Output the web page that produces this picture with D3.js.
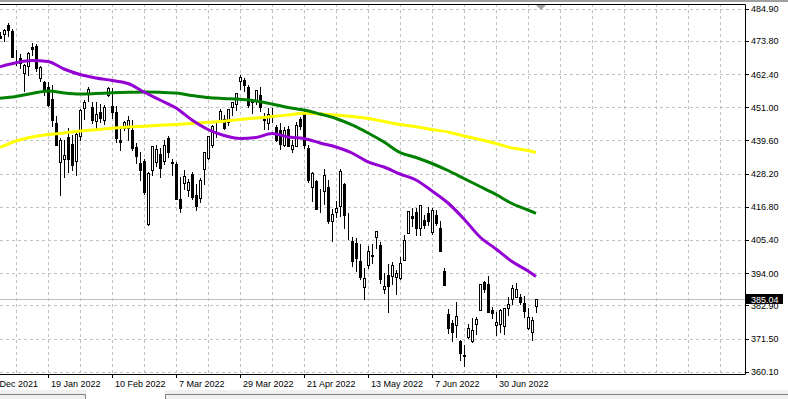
<!DOCTYPE html>
<html>
<head>
<meta charset="utf-8">
<script src="https://cdn.jsdelivr.net/npm/d3@7"></script>
<style>
  body { margin: 0; background: #fff; }
  svg { display: block; font-family: "Liberation Sans", Arial, sans-serif; font-size: 9px; }
</style>
</head>
<body>
<div id="chart"></div>
<script>
// daily bars, 27 Dec 2021 .. 15 Jul 2022
var dates = ["2021-12-27","2021-12-28","2021-12-29","2021-12-30","2021-12-31",
  "2022-01-03","2022-01-04","2022-01-05","2022-01-06","2022-01-07","2022-01-10","2022-01-11","2022-01-12","2022-01-13","2022-01-14",
  "2022-01-18","2022-01-19","2022-01-20","2022-01-21","2022-01-24","2022-01-25","2022-01-26","2022-01-27","2022-01-28","2022-01-31",
  "2022-02-01","2022-02-02","2022-02-03","2022-02-04","2022-02-07","2022-02-08","2022-02-09","2022-02-10","2022-02-11","2022-02-14",
  "2022-02-15","2022-02-16","2022-02-17","2022-02-18","2022-02-22","2022-02-23","2022-02-24","2022-02-25","2022-02-28",
  "2022-03-01","2022-03-02","2022-03-03","2022-03-04","2022-03-07","2022-03-08","2022-03-09","2022-03-10","2022-03-11","2022-03-14",
  "2022-03-15","2022-03-16","2022-03-17","2022-03-18","2022-03-21","2022-03-22","2022-03-23","2022-03-24","2022-03-25","2022-03-28",
  "2022-03-29","2022-03-30","2022-03-31","2022-04-01","2022-04-04","2022-04-05","2022-04-06","2022-04-07","2022-04-08","2022-04-11",
  "2022-04-12","2022-04-13","2022-04-14","2022-04-18","2022-04-19","2022-04-20","2022-04-21","2022-04-22","2022-04-25","2022-04-26",
  "2022-04-27","2022-04-28","2022-04-29","2022-05-02","2022-05-03","2022-05-04","2022-05-05","2022-05-06","2022-05-09","2022-05-10",
  "2022-05-11","2022-05-12","2022-05-13","2022-05-16","2022-05-17","2022-05-18","2022-05-19","2022-05-20","2022-05-23","2022-05-24",
  "2022-05-25","2022-05-26","2022-05-27","2022-05-31","2022-06-01","2022-06-02","2022-06-03","2022-06-06","2022-06-07","2022-06-08",
  "2022-06-09","2022-06-10","2022-06-13","2022-06-14","2022-06-15","2022-06-16","2022-06-17","2022-06-21","2022-06-22","2022-06-23",
  "2022-06-24","2022-06-27","2022-06-28","2022-06-29","2022-06-30","2022-07-01","2022-07-05","2022-07-06","2022-07-07","2022-07-08",
  "2022-07-11","2022-07-12","2022-07-13","2022-07-14","2022-07-15"];

var open = [472.06,477.72,476.98,477.93,475.64,
  476.30,479.22,477.16,467.89,467.95,462.70,465.23,471.59,472.19,461.19,
  459.74,458.13,453.75,445.56,432.03,433.06,440.72,438.26,432.68,441.24,
  450.68,455.50,450.95,446.35,449.51,446.73,455.22,451.34,449.41,439.92,
  443.73,443.93,443.22,437.33,431.89,432.66,411.02,429.61,432.03,
  435.04,432.37,440.47,431.75,431.55,419.62,425.14,422.52,428.12,420.89,
  419.77,429.89,433.59,438.00,444.34,445.86,446.91,445.94,451.16,452.06,
  460.02,460.34,457.89,453.31,453.13,455.22,446.89,445.59,447.97,444.11,
  443.08,438.03,443.55,436.81,437.86,446.92,448.54,436.91,423.67,425.83,
  417.24,422.29,423.59,412.07,415.01,417.08,424.55,411.10,405.10,404.49,
  398.07,389.37,396.71,399.98,406.53,403.50,388.62,393.25,392.83,392.56,
  392.31,398.67,407.91,413.55,415.17,409.42,412.40,414.78,408.10,413.93,
  409.34,394.88,379.85,376.85,376.09,370.51,365.51,371.89,370.62,376.64,
  381.40,391.05,390.23,381.23,376.24,376.56,375.88,382.11,385.12,385.81,
  385.85,383.65,375.10,373.61,382.55];

var high = [477.31,478.81,478.56,479.00,476.86,
  477.85,479.98,477.98,470.82,469.20,465.74,469.85,473.20,472.88,465.09,
  459.96,459.61,458.74,448.06,440.38,439.72,444.04,441.59,442.00,450.28,
  453.63,458.12,452.97,452.78,451.99,451.92,457.88,457.71,451.61,443.50,
  446.28,448.06,446.57,438.66,435.50,433.26,428.76,437.84,438.20,
  437.17,439.72,441.11,433.37,432.30,427.21,429.51,426.43,428.77,424.55,
  426.84,435.68,441.07,444.86,446.46,450.58,448.49,450.50,452.98,455.91,
  462.07,461.20,458.76,453.46,456.91,457.83,448.93,450.69,450.63,445.00,
  445.75,444.11,444.73,439.75,445.80,447.57,450.01,438.08,428.69,426.04,
  422.92,429.64,425.87,415.92,418.93,429.66,425.00,414.80,406.41,406.08,
  404.04,395.80,403.18,403.97,408.57,404.80,394.14,397.03,397.73,395.15,
  399.45,407.04,415.38,416.46,416.24,417.44,414.04,416.61,416.22,415.82,
  411.74,395.78,381.81,377.94,383.90,370.94,369.38,376.53,378.72,378.83,
  390.09,391.36,393.16,382.27,380.66,381.70,381.98,385.87,389.83,390.64,
  386.87,386.16,381.92,379.05,385.25];

var low = [472.01,476.06,475.92,475.67,474.67,
  473.85,475.58,468.28,465.43,464.65,456.60,462.05,468.94,463.44,459.90,
  455.31,451.46,444.50,437.95,420.76,427.15,428.86,429.45,427.82,439.81,
  446.94,453.05,445.71,443.83,445.82,445.22,455.01,447.20,438.94,436.27,
  443.18,439.69,436.42,431.82,425.86,421.35,410.64,427.86,430.70,
  427.11,431.57,433.80,427.88,419.36,415.12,422.82,420.44,419.53,415.79,
  418.42,424.80,433.19,437.22,440.68,445.86,443.71,444.76,448.43,450.06,
  457.18,456.47,451.16,449.14,452.26,449.82,443.47,443.53,445.94,439.39,
  436.65,437.84,437.68,435.61,437.68,443.48,437.10,425.44,418.84,416.07,
  415.01,417.60,411.21,405.02,413.36,413.71,409.44,405.73,396.50,394.82,
  391.96,385.15,395.61,397.60,402.58,390.55,387.11,380.54,390.38,386.96,
  391.89,398.45,407.70,410.03,406.93,407.04,409.51,410.55,407.61,410.38,
  401.44,389.75,373.30,370.59,372.12,364.08,362.17,371.81,370.18,372.89,
  381.37,387.44,380.53,378.42,372.56,373.80,372.90,379.60,383.27,385.66,
  383.50,378.99,374.66,371.04,380.54];

var close = [477.26,476.87,477.48,476.16,474.96,
  477.71,477.55,468.38,467.94,466.09,465.51,469.75,471.02,464.53,464.72,
  456.49,451.75,446.75,437.98,439.84,434.47,433.38,431.24,441.95,449.91,
  452.95,457.35,446.60,448.70,447.26,450.94,457.54,449.32,440.46,439.02,
  446.10,446.60,437.06,434.23,429.57,421.95,428.30,437.75,436.63,
  429.98,437.89,435.71,432.17,419.43,416.25,427.41,425.48,420.07,417.00,
  426.17,435.62,441.07,444.52,444.39,449.59,443.80,450.49,452.69,455.91,
  461.55,458.70,451.64,452.92,456.80,451.03,446.52,448.77,447.57,439.92,
  438.29,443.31,437.79,437.97,445.04,444.71,438.06,426.04,428.51,416.10,
  417.27,427.81,412.00,414.48,416.38,429.06,413.81,411.34,398.17,399.09,
  392.75,392.34,401.72,400.09,408.32,391.86,389.46,389.63,396.92,393.89,
  397.37,405.31,415.26,412.93,409.59,417.39,410.54,411.79,415.74,411.22,
  401.44,389.80,375.00,373.87,379.20,366.65,365.86,375.07,374.39,378.06,
  390.08,388.59,380.65,380.34,377.25,381.24,381.96,383.25,388.99,388.67,
  384.23,380.83,378.83,377.91,385.04];

// moving averages, every 4th bar
var maBars = [4,8,12,16,20,24,28,32,36,40,44,48,52,56,60,64,68,72,76,80,84,88,92,96,100,104,108,112,116,120,124,128,132,136,138];
var maPurple = [464.96,466.34,467.09,466.75,464.17,462.28,461.08,460.22,459.18,456.26,453.51,450.76,446.63,443.37,441.31,440.28,440.62,442.00,440.79,440.28,
  438.73,437.35,435.29,432.20,430.48,428.07,426.01,422.23,418.10,412.60,406.41,402.29,397.99,394.72,392.83];
var maGreen = [454.10,454.72,455.75,456.61,455.92,455.57,455.75,455.99,456.16,456.26,456.16,455.92,455.06,454.37,454.03,453.75,453.17,452.14,450.93,450.07,
  448.70,447.15,444.92,442.17,439.07,435.46,433.74,431.68,429.27,426.52,423.77,421.02,417.93,415.69,414.56];
var maYellow = [437.20,439.42,440.79,441.65,442.17,442.85,443.30,443.82,444.23,444.50,444.81,445.09,445.43,445.84,446.22,446.81,447.32,447.80,448.35,448.94,
  448.70,448.35,447.84,447.15,446.12,445.09,444.30,443.37,442.51,441.13,439.93,438.56,437.01,436.15,435.46];

var yTicks = ["484.90","473.80","462.40","451.00","439.60","428.20","416.80","405.40","394.00","382.90","371.50","360.10"];
var xTickBars = [0,16,32,48,64,80,96,112,128];
var xTickLabels = ["27 Dec 2021","19 Jan 2022","10 Feb 2022","7 Mar 2022","29 Mar 2022","21 Apr 2022","13 May 2022","7 Jun 2022","30 Jun 2022"];
var lastPrice = 385.04;

var W = 788, H = 399;
var plotR = 745, plotT = 4, plotB = 374;

var svg = d3.select("#chart").append("svg")
    .attr("width", W)
    .attr("height", H)

// window chrome: top strip, tab bar at the bottom
svg.append("rect").attr("x", 0).attr("y", 0).attr("width", W).attr("height", H).attr("fill", "#fff")
svg.append("rect").attr("x", 0).attr("y", 0).attr("width", W).attr("height", 2).attr("fill", "#a0a0a0")
svg.append("rect").attr("x", 0).attr("y", 390).attr("width", W).attr("height", 9).attr("fill", "#f0f0f0")
svg.append("path")
    .attr("d", "M0,394.5H85.5V399M165.5,399V394.5H" + W)
    .attr("fill", "none").attr("stroke", "#808080")
svg.append("rect").attr("x", 86).attr("y", 390).attr("width", 79).attr("height", 9).attr("fill", "#fff")

var x = d3.scaleLinear().domain([0, 138]).range([-16, 536])
var y = d3.scaleLinear().domain([360.1, 484.9]).range([371.7, 8.7])

var px = function(v){ return Math.round(v) + 0.5 }

// grid
var grid = svg.append("g").attr("stroke", "#c0c0c0").attr("stroke-dasharray", "3,3")
grid.selectAll(".hg").data(yTicks).enter().append("line")
    .attr("x1", 0).attr("x2", plotR)
    .attr("y1", function(d){ return px(y(+d)) })
    .attr("y2", function(d){ return px(y(+d)) })
grid.selectAll(".vg").data(d3.range(8, 185, 8)).enter().append("line")
    .attr("x1", function(d){ return px(x(d)) })
    .attr("x2", function(d){ return px(x(d)) })
    .attr("y1", plotT).attr("y2", plotB)

// last price line
svg.append("line").attr("x1", 0).attr("x2", plotR)
    .attr("y1", Math.floor(y(lastPrice)) + 0.5).attr("y2", Math.floor(y(lastPrice)) + 0.5)
    .attr("stroke", "#c0c0c0")

svg.append("clipPath").attr("id", "plotclip").append("rect")
    .attr("x", 0).attr("y", plotT).attr("width", plotR).attr("height", plotB - plotT)

var plot = svg.append("g").attr("clip-path", "url(#plotclip)")

// candles
var bars = plot.selectAll(".bar").data(d3.range(dates.length)).enter().append("g")
bars.append("line")
    .attr("x1", function(i){ return Math.round(x(i)) + 0.5 })
    .attr("x2", function(i){ return Math.round(x(i)) + 0.5 })
    .attr("y1", function(i){ return Math.round(y(high[i])) })
    .attr("y2", function(i){ return Math.round(y(low[i])) + 1 })
    .attr("stroke", "#000")
bars.append("rect")
    .attr("x", function(i){ return Math.round(x(i)) - 0.5 })
    .attr("y", function(i){ return Math.round(y(Math.max(open[i], close[i]))) + 0.5 })
    .attr("width", 2)
    .attr("height", function(i){
        return Math.max(Math.round(y(Math.min(open[i], close[i]))) - Math.round(y(Math.max(open[i], close[i]))), 0)
    })
    .attr("fill", function(i){ return close[i] >= open[i] ? "#fff" : "#000" })
    .attr("stroke", "#000")

// moving averages
var maLine = d3.line()
    .x(function(d, k){ return x(maBars[k]) })
    .y(function(d){ return y(d) })
    .curve(d3.curveMonotoneX)

var maSeries = [[maYellow, "#ffff00"], [maGreen, "#008000"], [maPurple, "#9400d3"]]
maSeries.forEach(function(s){
    plot.append("path")
        .attr("d", maLine(s[0]))
        .attr("fill", "none")
        .attr("stroke", s[1])
        .attr("stroke-width", 3)
})

// border
svg.append("path")
    .attr("d", "M0," + (plotT + 0.5) + "H" + (plotR + 0.5) + "V" + (plotB + 0.5) + "H0")
    .attr("fill", "none").attr("stroke", "#000")

// chart shift marker
svg.append("path").attr("d", "M536,5H546L541,10Z").attr("fill", "#a0a0a0")

// y axis
var yAxis = svg.append("g").attr("transform", "translate(" + (plotR + 1) + ",0)")
yAxis.selectAll(".yt").data(yTicks).enter().append("line")
    .attr("x1", 0).attr("x2", 3)
    .attr("y1", function(d){ return px(y(+d)) })
    .attr("y2", function(d){ return px(y(+d)) })
    .attr("stroke", "#000")
yAxis.selectAll(".yl").data(yTicks).enter().append("text")
    .attr("x", 5)
    .attr("y", function(d){ return y(+d) + 3.5 })
    .attr("fill", "#000")
    .text(function(d){ return d })

// last price label
svg.append("rect").attr("x", 746).attr("y", Math.round(y(lastPrice)) - 5).attr("width", 37).attr("height", 10).attr("fill", "#000")
svg.append("text").attr("x", 751).attr("y", Math.round(y(lastPrice)) + 3.5).attr("fill", "#fff").text(lastPrice.toFixed(2))

// x axis
var xAxis = svg.append("g")
xAxis.selectAll(".xt").data(xTickBars).enter().append("line")
    .attr("x1", function(d){ return px(x(d)) })
    .attr("x2", function(d){ return px(x(d)) })
    .attr("y1", plotB).attr("y2", plotB + 4)
    .attr("stroke", "#000")
xAxis.selectAll(".xl").data(xTickBars).enter().append("text")
    .attr("x", function(d){ return x(d) + 3 })
    .attr("y", 386.5)
    .attr("fill", "#000")
    .text(function(d, k){ return xTickLabels[k] })
</script>
</body>
</html>
